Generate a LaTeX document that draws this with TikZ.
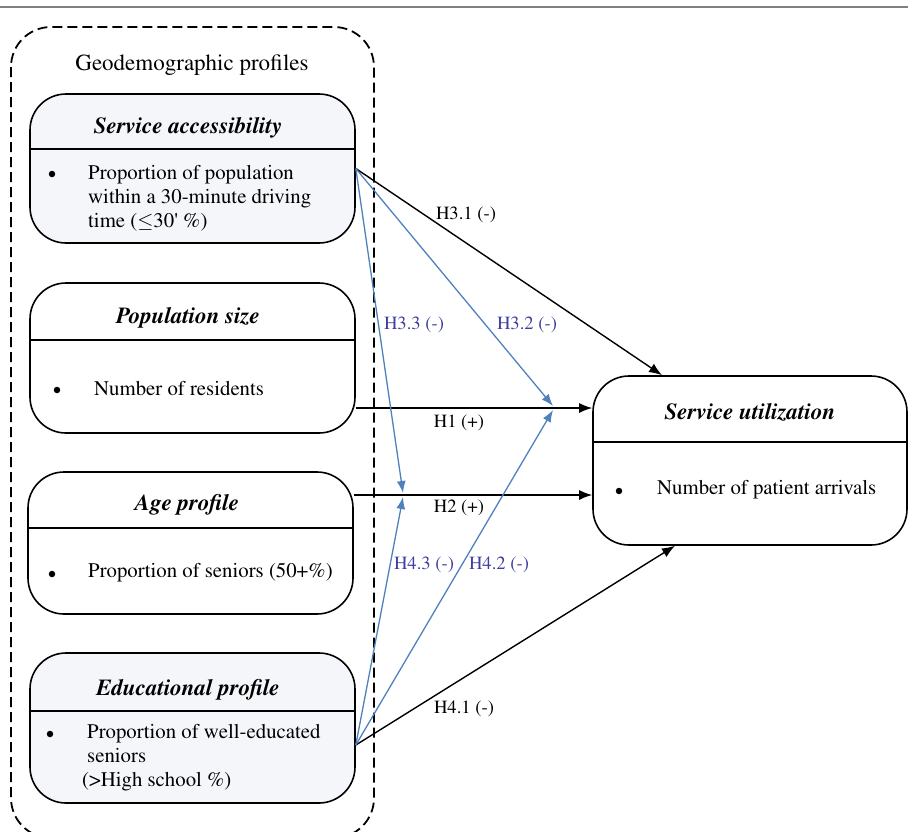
\documentclass[tikz,border=0pt]{standalone}
\usepackage[T1]{fontenc}
\usepackage{mathptmx}
\usepackage{textcomp}
\usetikzlibrary{arrows.meta,calc}
\definecolor{hypline}{RGB}{79,129,189}
\definecolor{hyptext}{RGB}{62,62,160}
\definecolor{boxfill}{RGB}{245,246,250}
\tikzset{>={Latex[length=13pt,width=10pt]}}
\tikzset{
  factor/.style={draw,line width=1.6pt,rounded corners=36pt,minimum width=325pt,inner sep=0pt},
  divider/.style={line width=1.6pt},
  title/.style={font=\fontsize{23}{26}\selectfont\bfseries\itshape,inner sep=0pt},
  body/.style={font=\fontsize{20.8}{23.8}\selectfont,align=left,anchor=west,inner sep=0pt},
  dot/.style={circle,fill,minimum size=6.5pt,inner sep=0pt},
  link/.style={line width=1.4pt},
  hlink/.style={line width=1.3pt,draw=hypline,-{Latex[length=12pt,width=9pt,fill=hypline]}},
  hyp/.style={font=\fontsize{18.6}{20}\selectfont,inner sep=0pt},
  hypb/.style={hyp,text=hyptext}
}

\begin{document}
\begin{tikzpicture}[x=1pt,y=-1pt]
	\useasboundingbox (0,0) rectangle (908,831);

	% Frame and group
	\draw[gray,line width=1.5pt] (0,7) -- (908,7); %top rule
	\draw[line width=1.8pt,dash pattern=on 10pt off 5pt,rounded corners=40pt] (11,27) rectangle (374,838);
	\node[font=\fontsize{23}{26}\selectfont,inner sep=0pt] (geo) at (192,65) {Geodemographic profiles};

	% Defining boxes
	\node[factor,fill=boxfill,minimum height=149pt] (sa) at (192.5,168.5) {}; %Service accessibility
	\node[factor,minimum height=150pt] (ps) at (192.5,358) {}; %Population size
	\node[factor,minimum height=142pt] (ap) at (190.5,543) {}; %Age profile
	\node[factor,fill=boxfill,minimum height=150pt] (ep) at (192.5,728) {}; %Educational profile
	\node[factor,minimum width=314pt,minimum height=169pt] (su) at (750,460.5) {}; %Service utilization

	\draw[divider] ([yshift=-56pt]sa.north west) -- ([yshift=-56pt]sa.north east);
	\draw[divider] ([yshift=-58pt]ps.north west) -- ([yshift=-58pt]ps.north east);
	\draw[divider] ([yshift=-57pt]ap.north west) -- ([yshift=-57pt]ap.north east);
	\draw[divider] ([yshift=-59pt]ep.north west) -- ([yshift=-59pt]ep.north east);
	\draw[divider] ([yshift=-67pt]su.north west) -- ([yshift=-67pt]su.north east);

	% Box texts
	\node[title] (sat) at (188,128) {Service accessibility};
	\node[dot] (sad) at (52,174) {};
	\node[body] (sab) at (88,198.5) {Proportion of population\\within a 30-minute driving\\time ($\leq$30\textquotesingle{} \%)};

	\node[title] (pst) at (188,318) {Population size};
	\node[dot] (psd) at (57,390) {};
	\node[body] (psb) at (94,389) {Number of residents};

	\node[title] (apt) at (187,505) {Age profile};
	\node[dot] (apd) at (52,574) {};
	\node[body] (apb) at (88,573) {Proportion of seniors (50+\%)};

	\node[title] (ept) at (188,690) {Educational profile};
	\node[dot] (epd) at (50,734) {};
	\node[body] (epb) at (87,757.5) {Proportion of well-educated\\seniors\\\hspace*{-5pt}(>High school \%)};

	\node[title] (sut) at (750,412) {Service utilization};
	\node[dot] (sud) at (619,491) {};
	\node[body] (sub) at (657,490) {Number of patient arrivals};

	% Meeting points of the blue arrows
	\coordinate (m1) at (553,408);
	\coordinate (m2) at (403,495);

	% Drawing hypotheses
	\draw[->,link] (sa.east) -- ([xshift=-88pt]su.north);
	\draw[->,link] ([yshift=-50pt]ps.east) -- ([yshift=52.5pt]su.west);
	\draw[->,link] ([yshift=48pt]ap.east) -- ([yshift=-34.5pt]su.west);
	\draw[->,link] ([yshift=-17pt]ep.east) -- ([xshift=-75pt]su.south);

	\draw[hlink] (sa.east) -- ([yshift=2pt]m1);
	\draw[hlink] (sa.east) -- ([yshift=2pt]m2);
	\draw[hlink] ([yshift=-17pt]ep.east) -- ([yshift=-2pt]m1);
	\draw[hlink] ([yshift=-17pt]ep.east) -- ([yshift=-2pt]m2);

	% Labels
	\node[hyp] at (466,215) {H3.1 (-)};
	\node[hypb] at (414,325) {H3.3 (-)};
	\node[hypb] at (527,325) {H3.2 (-)};
	\node[hyp] at (459,423) {H1 (+)};
	\node[hyp] at (459,508) {H2 (+)};
	\node[hypb] at (424,565) {H4.3 (-)};
	\node[hypb] at (499,565) {H4.2 (-)};
	\node[hyp] at (464,709) {H4.1 (-)};
\end{tikzpicture}
\end{document}
